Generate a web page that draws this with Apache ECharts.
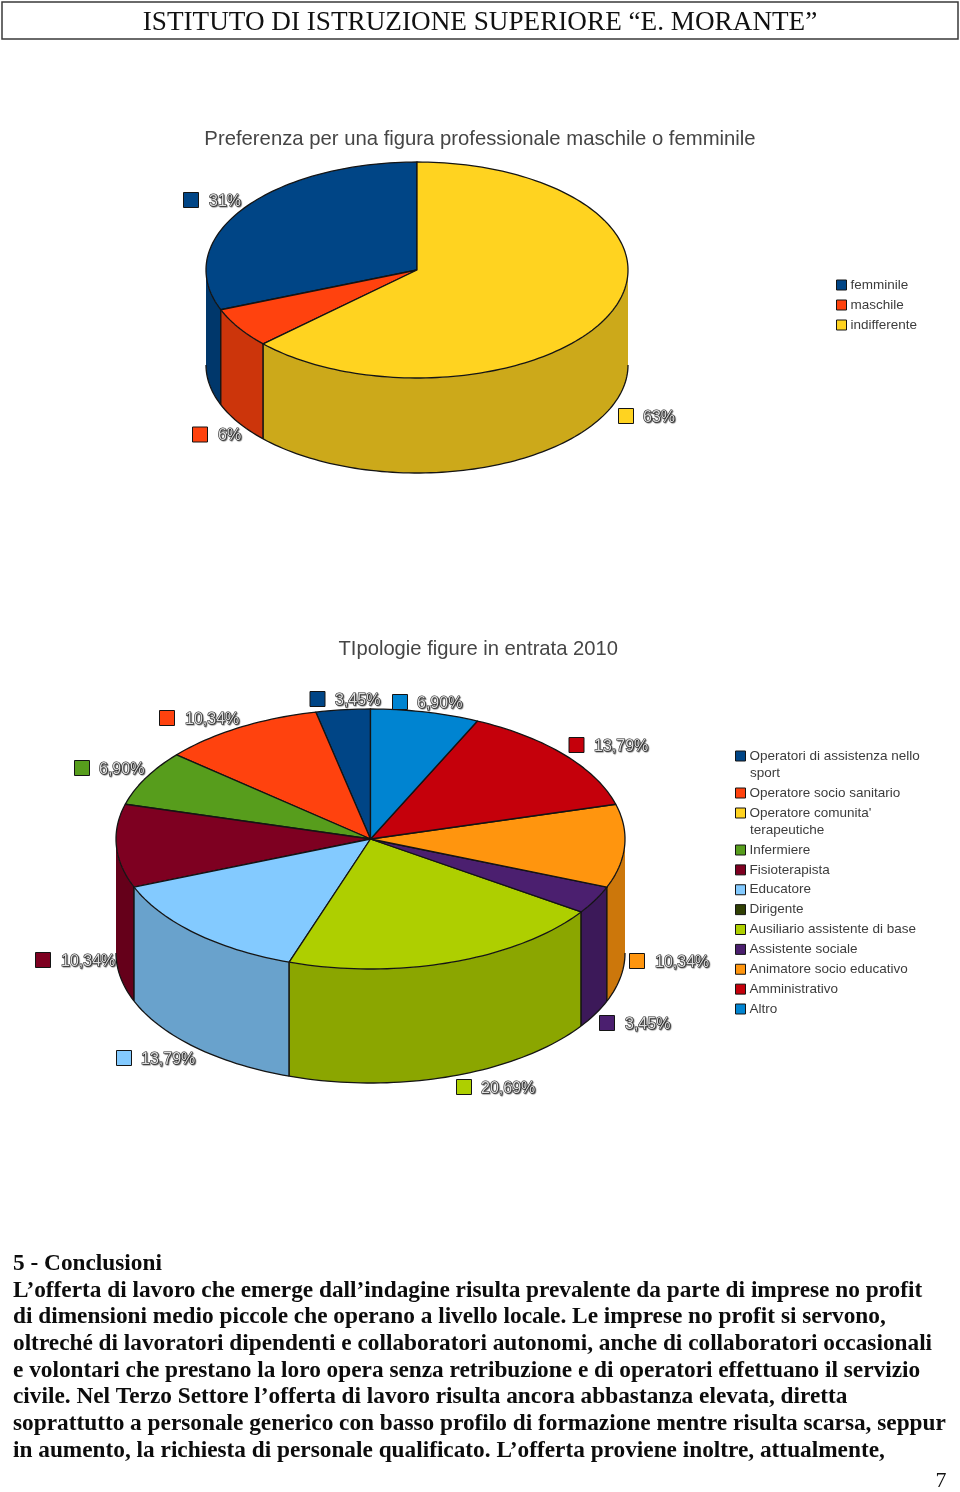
<!DOCTYPE html>
<html><head><meta charset="utf-8">
<style>html,body{margin:0;padding:0;background:#fff}#c{width:960px;height:1492px}</style>
<script src="https://cdn.jsdelivr.net/npm/echarts@6/dist/echarts.min.js"></script>
</head><body><div id="c"></div>
<script>
// ---- data ----
const headerText = 'ISTITUTO DI ISTRUZIONE SUPERIORE “E. MORANTE”';
const titleA = 'Preferenza per una figura professionale maschile o femminile';
const namesA = ['femminile', 'maschile', 'indifferente'];
const valuesA = [31, 6, 63];
const titleB = 'TIpologie figure in entrata 2010';
const namesB = ['Operatori di assistenza nello sport', 'Operatore socio sanitario', "Operatore comunita' terapeutiche", 'Infermiere', 'Fisioterapista', 'Educatore', 'Dirigente', 'Ausiliario assistente di base', 'Assistente sociale', 'Animatore socio educativo', 'Amministrativo', 'Altro'];
const valuesB = [3.45, 10.34, 0, 6.90, 10.34, 13.79, 0, 20.69, 3.45, 10.34, 13.79, 6.90];
const bodyLines = [
  '5 - Conclusioni',
  'L’offerta di lavoro che emerge dall’indagine risulta prevalente da parte di imprese no profit',
  'di dimensioni medio piccole che operano a livello locale. Le imprese no profit si servono,',
  'oltreché di lavoratori dipendenti e collaboratori autonomi, anche di collaboratori occasionali',
  'e volontari che prestano la loro opera senza retribuzione e di operatori effettuano il servizio',
  'civile. Nel Terzo Settore l’offerta di lavoro risulta ancora abbastanza elevata, diretta',
  'soprattutto a personale generico con basso profilo di formazione mentre risulta scarsa, seppur',
  'in aumento, la richiesta di personale qualificato. L’offerta proviene inoltre, attualmente,'
];
const pageNumber = '7';

// ---- styles and layout ----
const palette = ['#004586', '#ff420e', '#ffd320', '#579d1c', '#7e0021', '#83caff', '#314004', '#aecf00', '#4b1f6f', '#ff950e', '#c5000b', '#0084d1'];
const colorsA = ['#004586', '#ff420e', '#ffd320'];
const geomA = { cx: 417, cy: 270, rx: 211, ry: 108, depth: 95 };
const geomB = { cx: 370.5, cy: 839, rx: 254.5, ry: 130, depth: 114 };
// [marker centre x, marker centre y, text start x] per slice, for the data labels
const labelPosA = [[191, 200, 209], [200, 434.5, 218], [626, 416, 643]];
const labelPosB = [[317.5, 699, 335], [167, 718, 185], null, [82, 768, 99], [43, 960, 61], [124, 1058, 141], null, [464, 1087, 481], [607, 1023, 625], [637, 961, 655], [576.5, 745, 594], [400, 702, 417]];
const bodyY = [1264, 1291, 1317, 1344, 1371, 1397, 1424, 1451];
const INK = '#141414';

function shade(hex, f) {
  const n = parseInt(hex.slice(1), 16);
  const c = s => Math.round(((n >> s) & 255) * f);
  return 'rgb(' + c(16) + ',' + c(8) + ',' + c(0) + ')';
}
function ellipsePoints(g, a0, a1, dy) {
  // angles in degrees, counter-clockwise from 12 o'clock
  const pts = [], steps = Math.max(2, Math.ceil(Math.abs(a1 - a0) / 1.5));
  for (let i = 0; i <= steps; i++) {
    const a = (a0 + (a1 - a0) * i / steps) * Math.PI / 180;
    pts.push([g.cx - g.rx * Math.sin(a), g.cy - g.ry * Math.cos(a) + dy]);
  }
  return pts;
}
function sliceSeries(names, values, colors, g, labelPos, decimals) {
  let cum = 0;
  return names.map((name, i) => {
    const start = cum; cum += values[i];
    const total = values.reduce((a, b) => a + b, 0);
    return {
      type: 'custom', name, coordinateSystem: 'none', silent: true,
      itemStyle: { color: colors[i] },
      data: [[start, values[i], total]],
      renderItem(params, api) {
        const s = api.value(0), v = api.value(1), t = api.value(2);
        if (!v) return { type: 'group', children: [] };
        const a0 = s / t * 360, a1 = (s + v) / t * 360;
        const kids = [];
        // front wall: only the part between 90 and 270 degrees is visible
        const w0 = Math.max(a0, 90), w1 = Math.min(a1, 270);
        if (w1 > w0) {
          const top = ellipsePoints(g, w0, w1, 0), bot = ellipsePoints(g, w0, w1, g.depth);
          kids.push({ type: 'polygon', shape: { points: top.concat(bot.slice().reverse()) }, style: { fill: shade(colors[i], 0.8), stroke: null } });
          kids.push({ type: 'polyline', shape: { points: bot }, style: { fill: null, stroke: INK, lineWidth: 1.3 } });
          [a0, a1].forEach(a => {
            if (a > 90 && a < 270) {
              const p = ellipsePoints(g, a, a, 0)[0];
              kids.push({ type: 'line', shape: { x1: p[0], y1: p[1], x2: p[0], y2: p[1] + g.depth }, style: { stroke: INK, lineWidth: 1.3 } });
            }
          });
        }
        const rim = ellipsePoints(g, a0, a1, 0);
        kids.push({ type: 'polygon', z2: 2, shape: { points: [[g.cx, g.cy]].concat(rim) }, style: { fill: colors[i], stroke: INK, lineWidth: 1.3, lineJoin: 'round' } });
        const lp = labelPos[i];
        if (lp) {
          kids.push({ type: 'rect', z2: 10, shape: { x: lp[0] - 7.5, y: lp[1] - 7.5, width: 15, height: 15 }, style: { fill: colors[i], stroke: INK, lineWidth: 1 } });
          kids.push({ type: 'text', z2: 11, style: {
            text: v.toFixed(decimals).replace('.', ',') + '%', x: lp[2], y: lp[1] + 1.5,
            font: '16px "Liberation Sans"', fill: '#dedede', stroke: '#262626', lineWidth: 1.2,
            textAlign: 'left', textVerticalAlign: 'middle', textShadowColor: 'rgba(0,0,0,0.45)', textShadowOffsetX: 1, textShadowOffsetY: 1, textShadowBlur: 1 } });
        }
        return { type: 'group', children: kids };
      }
    };
  });
}
function legendOf(data, left, top, gap, formatter) {
  return {
    data, left, top, orient: 'vertical', padding: 0, itemGap: gap, itemWidth: 10, itemHeight: 10, selectedMode: false,
    icon: 'rect',
    itemStyle: { borderColor: INK, borderWidth: 1 },
    textStyle: { fontFamily: '"Liberation Sans"', fontSize: 13.5, color: '#3c3c3c', lineHeight: 14, padding: [0, 0, 0, -1] },
    formatter: formatter || (n => n)
  };
}
const firstLine = { [namesB[0]]: 'Operatori di assistenza nello', [namesB[2]]: "Operatore comunita'" };
const cut = n => firstLine[n] || n;
const plainText = (text, x, y, font, fill, align) => ({
  type: 'text', x, y, style: { text, font, fill, textAlign: align || 'left', textVerticalAlign: 'middle' } });

const option = {
  animation: false,
  backgroundColor: '#fff',
  title: [
    { text: titleA, left: 'center', top: 129, padding: 0, textStyle: { fontFamily: '"Liberation Sans"', fontSize: 20.3, fontWeight: 'normal', color: '#454545' } },
    { text: titleB, left: 338.5, top: 639, padding: 0, textStyle: { fontFamily: '"Liberation Sans"', fontSize: 20.2, fontWeight: 'normal', color: '#454545' } }
  ],
  legend: [
    legendOf(namesA, 836, 278, 6),
    legendOf([namesB[0]], 735, 749, 6, cut),
    legendOf(namesB.slice(1, 3), 735, 786, 6, cut),
    legendOf(namesB.slice(3), 735, 843, 5.875, cut)
  ],
  graphic: [
    { type: 'rect', shape: { x: 2, y: 2, width: 956, height: 37 }, style: { fill: '#fff', stroke: '#3a3a3a', lineWidth: 1.5 } },
    plainText(headerText, 480, 23, '27.2px "Liberation Serif"', '#111', 'center'),
    plainText('sport', 750, 773, '13.5px "Liberation Sans"', '#3c3c3c'),
    plainText('terapeutiche', 750, 830, '13.5px "Liberation Sans"', '#3c3c3c'),
    plainText(pageNumber, 941, 1481, '22px "Liberation Serif"', '#111', 'center')
  ].concat(bodyLines.map((t, i) => plainText(t, 13, bodyY[i], 'bold 23.3px "Liberation Serif"', '#0c0c0c'))),
  series: sliceSeries(namesA, valuesA, colorsA, geomA, labelPosA, 0)
    .concat(sliceSeries(namesB, valuesB, palette, geomB, labelPosB, 2))
};
echarts.init(document.getElementById('c'), null, { renderer: 'canvas' }).setOption(option);
</script></body></html>
